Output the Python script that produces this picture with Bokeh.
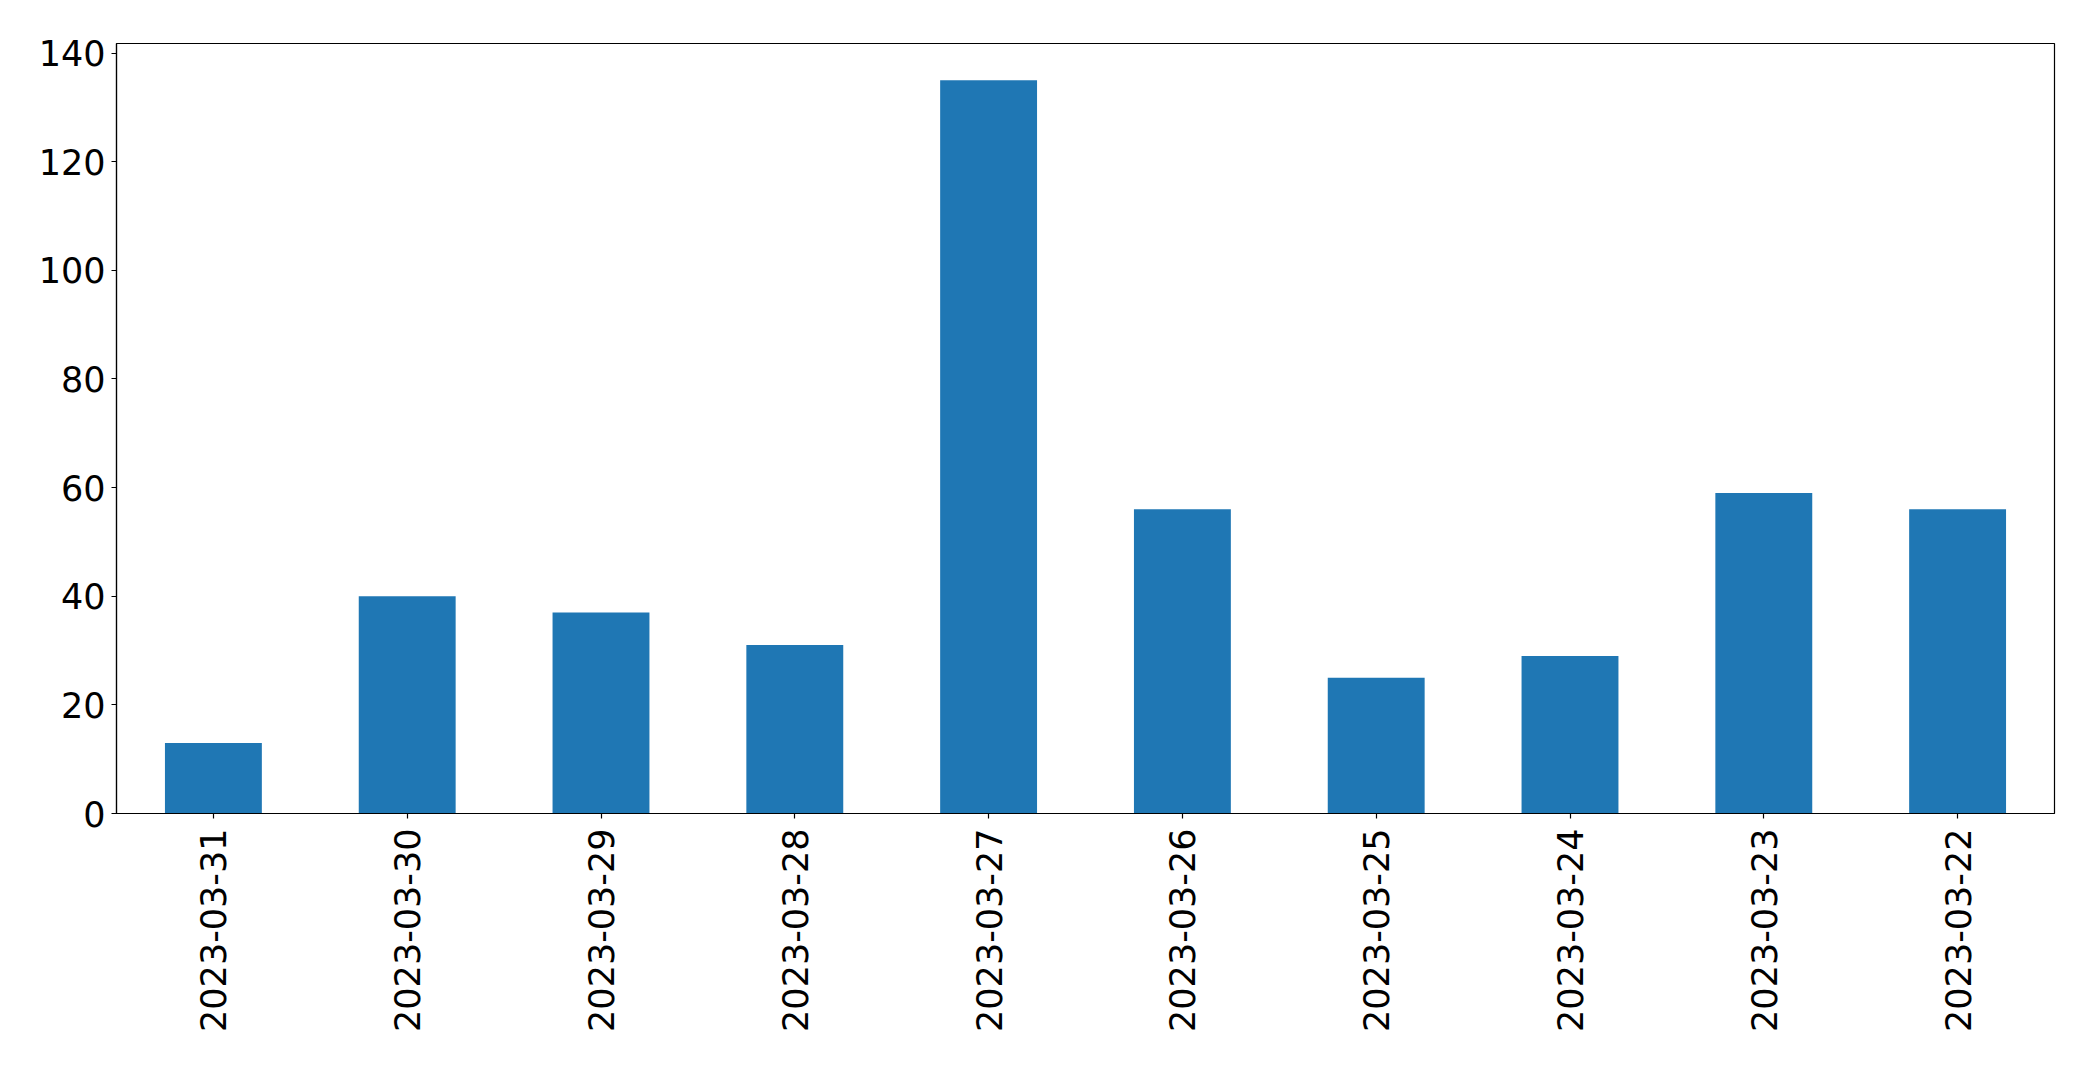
import math
from bokeh.plotting import figure
from bokeh.models import FactorRange, Range1d, FixedTicker, ColumnDataSource
from bokeh.embed import file_html
from bokeh.resources import INLINE

dates = ["2023-03-31", "2023-03-30", "2023-03-29", "2023-03-28", "2023-03-27",
         "2023-03-26", "2023-03-25", "2023-03-24", "2023-03-23", "2023-03-22"]
counts = [13, 40, 37, 31, 135, 56, 25, 29, 59, 56]
y_ticks = [0, 20, 40, 60, 80, 100, 120, 140]

src = ColumnDataSource(dict(x=dates, top=counts))

p = figure(width=2085, height=1057, output_backend="svg", toolbar_location=None,
           x_range=FactorRange(*dates), y_range=Range1d(0, max(counts) * 1.05),
           min_border_left=116, min_border_right=31, min_border_top=43, min_border_bottom=244)

p.vbar(x="x", top="top", width=0.5, source=src, fill_color="#1f77b4", line_color=None)

p.xgrid.visible = False
p.ygrid.visible = False
p.outline_line_color = "black"
p.outline_line_width = 1.2
p.background_fill_color = "white"
p.border_fill_color = "white"

p.yaxis.ticker = FixedTicker(ticks=y_ticks)
p.yaxis.minor_tick_line_color = None

for ax in (p.xaxis[0], p.yaxis[0]):
    ax.axis_line_color = "black"
    ax.axis_line_width = 1.2
    ax.major_tick_line_color = "black"
    ax.major_tick_line_width = 1.2
    ax.major_tick_out = 5
    ax.major_tick_in = 0
    ax.major_label_text_font = "DejaVu Sans"
    ax.major_label_text_font_size = "35px"
    ax.major_label_text_color = "black"

p.yaxis.major_label_standoff = 6
p.xaxis.major_label_standoff = 10
p.xaxis.major_label_orientation = math.pi / 2

open("out.html", "w").write(file_html(p, INLINE))
